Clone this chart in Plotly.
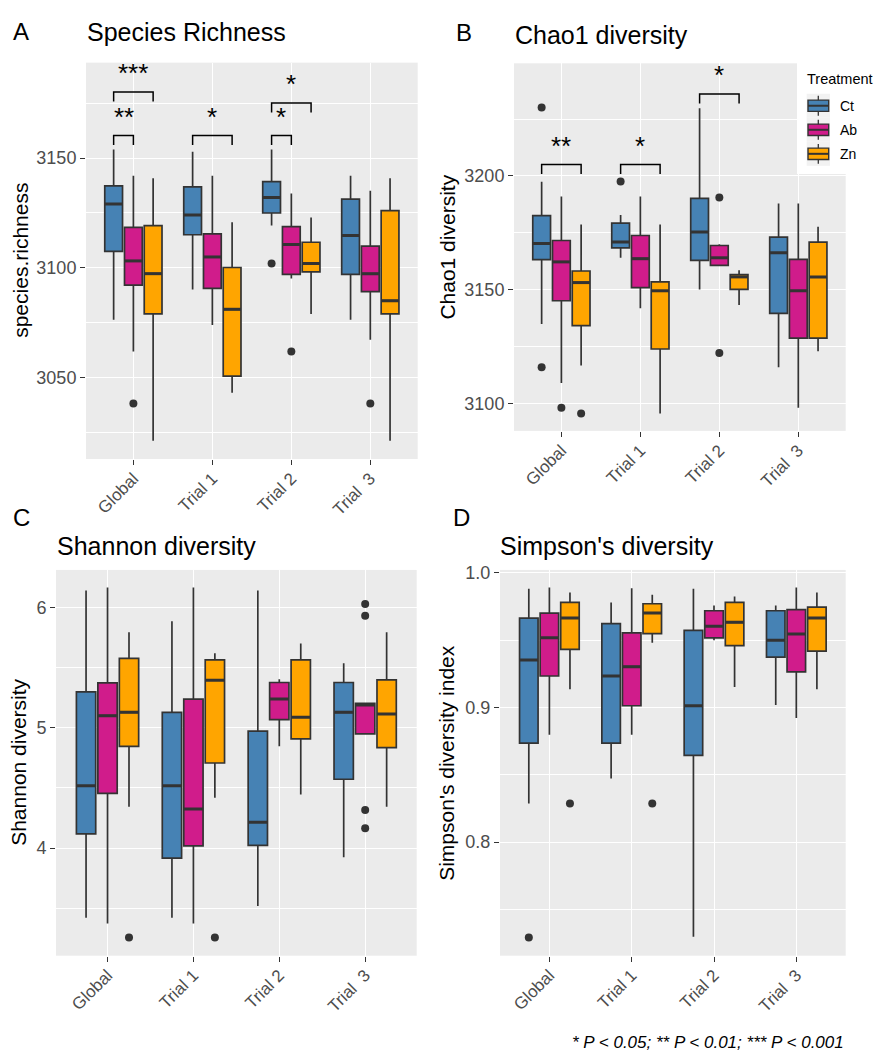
import plotly.graph_objects as go

W, H = 876, 1058
FONT = "Liberation Sans, Arial, Helvetica, sans-serif"

groups = ["Global", "Trial 1", "Trial 2", "Trial\u00a0\u00a03"]
treatments = ["Ct", "Ab", "Zn"]
colors = {"Ct": "#4682B4", "Ab": "#D01C8B", "Zn": "#FFA500"}
offsets = {"Ct": -0.25, "Ab": 0.0, "Zn": 0.25}
BOXW = 0.225

# ---------------- Panel A: species richness ----------------
rich_lo = {"Ct": [3076.4, 3090.2, 3119.3, 3076.4],
           "Ab": [3062.0, 3074.1, 3095.2, 3067.3],
           "Zn": [3021.4, 3043.2, 3079.1, 3021.4]}
rich_q1 = {"Ct": [3107.5, 3115.1, 3125.0, 3097.1],
           "Ab": [3092.2, 3090.7, 3097.1, 3089.2],
           "Zn": [3079.1, 3050.8, 3098.2, 3079.1]}
rich_med = {"Ct": [3129.1, 3124.1, 3132.1, 3114.8],
            "Ab": [3103.2, 3105.0, 3110.7, 3097.4],
            "Zn": [3097.4, 3081.2, 3102.0, 3085.1]}
rich_q3 = {"Ct": [3137.3, 3136.9, 3139.3, 3131.3],
           "Ab": [3118.5, 3115.5, 3118.8, 3109.9],
           "Zn": [3119.3, 3100.2, 3111.7, 3126.1]}
rich_hi = {"Ct": [3153.9, 3152.9, 3153.9, 3141.9],
           "Ab": [3141.9, 3141.9, 3133.9, 3135.1],
           "Zn": [3140.8, 3120.8, 3123.0, 3140.8]}
rich_out = [(0, "Ab", 3038.3), (2, "Ct", 3102.0), (2, "Ab", 3062.0), (3, "Ab", 3038.3)]
rich_sig = [(0, "Ct", "Ab", 3160.2, "**"), (0, "Ct", "Zn", 3180.0, "***"),
            (1, "Ct", "Zn", 3160.2, "*"), (2, "Ct", "Ab", 3160.2, "*"),
            (2, "Ct", "Zn", 3175.0, "*")]

# ---------------- Panel B: Chao1 ----------------
chao_lo = {"Ct": [3134.9, 3164.0, 3150.1, 3115.9],
           "Ab": [3109.0, 3141.8, 3160.7, 3098.1],
           "Zn": [3116.6, 3095.5, 3143.2, 3122.9]}
chao_q1 = {"Ct": [3163.2, 3168.4, 3162.9, 3139.6],
           "Ab": [3145.1, 3150.9, 3160.7, 3128.7],
           "Zn": [3134.2, 3123.9, 3150.1, 3128.7]}
chao_med = {"Ct": [3170.3, 3170.9, 3175.3, 3166.2],
            "Ab": [3162.2, 3163.6, 3164.0, 3149.5],
            "Zn": [3153.1, 3149.5, 3155.6, 3155.6]}
chao_q3 = {"Ct": [3182.5, 3179.2, 3190.1, 3173.1],
           "Ab": [3171.6, 3173.8, 3169.4, 3163.3],
           "Zn": [3158.2, 3153.4, 3156.6, 3170.9]}
chao_hi = {"Ct": [3197.4, 3182.8, 3229.8, 3187.9],
           "Ab": [3191.0, 3191.0, 3169.9, 3187.9],
           "Zn": [3178.6, 3178.6, 3158.5, 3177.7]}
chao_out = [(0, "Ct", 3230.1), (0, "Ct", 3115.9), (0, "Ab", 3098.1), (0, "Zn", 3095.5),
            (1, "Ct", 3197.5), (2, "Ab", 3190.5), (2, "Ab", 3122.1)]
chao_sig = [(0, "Ct", "Zn", 3205.0, "**"), (1, "Ct", "Zn", 3205.0, "*"),
            (2, "Ct", "Zn", 3236.0, "*")]

# ---------------- Panel C: Shannon ----------------
shan_lo = {"Ct": [3.422, 3.422, 3.519, 3.923],
           "Ab": [3.373, 3.373, 4.847, 4.949],
           "Zn": [4.344, 4.418, 4.446, 4.344]}
shan_q1 = {"Ct": [4.118, 3.917, 4.022, 4.572],
           "Ab": [4.454, 4.019, 5.067, 4.949],
           "Zn": [4.845, 4.707, 4.908, 4.834]}
shan_med = {"Ct": [4.517, 4.517, 4.215, 5.128],
            "Ab": [5.100, 4.325, 5.238, 5.188],
            "Zn": [5.128, 5.395, 5.087, 5.114]}
shan_q3 = {"Ct": [5.298, 5.128, 4.971, 5.376],
           "Ab": [5.373, 5.238, 5.376, 5.202],
           "Zn": [5.576, 5.563, 5.563, 5.398]}
shan_hi = {"Ct": [6.140, 5.884, 6.140, 5.535],
           "Ab": [6.165, 6.165, 5.403, 5.202],
           "Zn": [5.794, 5.618, 5.700, 5.794]}
shan_out = [(0, "Zn", 3.257), (1, "Zn", 3.257), (3, "Ab", 6.028), (3, "Ab", 5.931),
            (3, "Ab", 4.316), (3, "Ab", 4.165)]
shan_sig = []

# ---------------- Panel D: Simpson ----------------
simp_lo = {"Ct": [0.8287, 0.8472, 0.7297, 0.9017],
           "Ab": [0.8796, 0.8796, 0.9499, 0.8921],
           "Zn": [0.9135, 0.9479, 0.9152, 0.9135]}
simp_q1 = {"Ct": [0.8735, 0.8735, 0.8644, 0.9373],
           "Ab": [0.9233, 0.9012, 0.9516, 0.9263],
           "Zn": [0.9430, 0.9548, 0.9459, 0.9418]}
simp_med = {"Ct": [0.9351, 0.9233, 0.9012, 0.9499],
            "Ab": [0.9516, 0.9302, 0.9602, 0.9545],
            "Zn": [0.9663, 0.9700, 0.9631, 0.9663]}
simp_q3 = {"Ct": [0.9663, 0.9622, 0.9572, 0.9717],
           "Ab": [0.9700, 0.9553, 0.9717, 0.9725],
           "Zn": [0.9779, 0.9769, 0.9779, 0.9744]}
simp_hi = {"Ct": [0.9880, 0.9779, 0.9880, 0.9757],
           "Ab": [0.9889, 0.9885, 0.9757, 0.9889],
           "Zn": [0.9853, 0.9835, 0.9823, 0.9853]}
simp_out = [(0, "Ct", 0.7292), (0, "Zn", 0.8287), (1, "Zn", 0.8287)]
simp_sig = []

tick_labels = groups
caption = "* P < 0.05; ** P < 0.01; *** P < 0.001"

panels = [
    dict(key="A", title="Species Richness", ytitle="species.richness",
         lo=rich_lo, q1=rich_q1, med=rich_med, q3=rich_q3, hi=rich_hi,
         out=rich_out, sig=rich_sig, box=(86, 56, 417.7, 455), yr=(3013.1, 3193.4),
         dtick=50, tick0=3000, fmt="d", tag=(11, 24.5), tpos=(85, 25), ytx=21),
    dict(key="B", title="Chao1 diversity", ytitle="Chao1 diversity",
         lo=chao_lo, q1=chao_q1, med=chao_med, q3=chao_q3, hi=chao_hi,
         out=chao_out, sig=chao_sig, box=(514, 56.7, 845.7, 426.7), yr=(3087.9, 3249.5),
         dtick=50, tick0=3000, fmt="d", tag=(454, 26), tpos=(513, 28), ytx=447.5),
    dict(key="C", title="Shannon diversity", ytitle="Shannon diversity",
         lo=shan_lo, q1=shan_q1, med=shan_med, q3=shan_q3, hi=shan_hi,
         out=shan_out, sig=shan_sig, box=(56, 566.7, 416.7, 955), yr=(3.106, 6.311),
         dtick=1, tick0=0, fmt="d", tag=(11, 514), tpos=(55, 543), ytx=19),
    dict(key="D", title="Simpson's diversity", ytitle="Simpson's diversity index",
         lo=simp_lo, q1=simp_q1, med=simp_med, q3=simp_q3, hi=simp_hi,
         out=simp_out, sig=simp_sig, box=(500, 566.7, 845.7, 955), yr=(0.7157, 1.002),
         dtick=0.1, tick0=0, fmt=".1f", tag=(451, 514), tpos=(498, 543), ytx=447),
]

def px2x(px):
    return px / W

def px2y(py):
    return 1 - py / H

fig = go.Figure()
annotations = []
shapes = []
layout_axes = {}
XR = (-0.6, 3.6)

for i, p in enumerate(panels):
    n = i + 1
    xa = "x" if n == 1 else f"x{n}"
    ya = "y" if n == 1 else f"y{n}"
    l, t, r, b = p["box"]
    ppu = (b - t) / (p["yr"][1] - p["yr"][0])

    for tr in treatments:
        pos = [g + offsets[tr] for g in range(len(groups))]
        fig.add_trace(go.Box(
            x=pos, q1=p["q1"][tr], median=p["med"][tr], q3=p["q3"][tr],
            lowerfence=p["lo"][tr], upperfence=p["hi"][tr],
            width=BOXW, whiskerwidth=0, boxpoints=False,
            fillcolor=colors[tr], line=dict(color="#333333", width=1.7),
            name=tr, showlegend=False, xaxis=xa, yaxis=ya, hoverinfo="skip"))
        mx, my = [], []
        for g in range(len(groups)):
            c = g + offsets[tr]
            mx += [c - BOXW / 2, c + BOXW / 2, None]
            my += [p["med"][tr][g], p["med"][tr][g], None]
        fig.add_trace(go.Scatter(x=mx, y=my, mode="lines",
                                 line=dict(color="#333333", width=3),
                                 showlegend=False, xaxis=xa, yaxis=ya, hoverinfo="skip"))
    ox = [g + offsets[tr] for g, tr, v in p["out"]]
    oy = [v for g, tr, v in p["out"]]
    fig.add_trace(go.Scatter(x=ox, y=oy, mode="markers",
                             marker=dict(color="#333333", size=8),
                             showlegend=False, xaxis=xa, yaxis=ya, hoverinfo="skip"))
    tip = 9.5 / ppu
    for g, t1, t2, yv, lab in p["sig"]:
        x1 = g + offsets[t1]
        x2 = g + offsets[t2]
        fig.add_trace(go.Scatter(x=[x1, x1, x2, x2], y=[yv - tip, yv, yv, yv - tip],
                                 mode="lines", line=dict(color="black", width=1.5),
                                 showlegend=False, xaxis=xa, yaxis=ya, hoverinfo="skip"))
        annotations.append(dict(x=(x1 + x2) / 2, y=yv, xref=xa, yref=ya, text=lab,
                                showarrow=False, yanchor="middle", yshift=19,
                                font=dict(size=26, color="black", family=FONT)))

    axname_x = "xaxis" if n == 1 else f"xaxis{n}"
    axname_y = "yaxis" if n == 1 else f"yaxis{n}"
    layout_axes[axname_x] = dict(
        domain=[px2x(l), px2x(r)], anchor=ya, range=list(XR),
        tickmode="array", tickvals=list(range(len(groups))), ticktext=tick_labels,
        tickangle=-45, showgrid=True, gridcolor="white", gridwidth=1.4,
        zeroline=False, showline=False, ticks="outside", ticklen=5,
        tickcolor="#333333", tickwidth=1.2, ticklabelstandoff=-3,
        tickfont=dict(size=17, color="#4D4D4D", family=FONT))
    layout_axes[axname_y] = dict(
        domain=[px2y(b), px2y(t)], anchor=xa, range=list(p["yr"]),
        tickmode="linear", tick0=p["tick0"], dtick=p["dtick"], tickformat=p["fmt"],
        showgrid=True, gridcolor="white", gridwidth=1.4,
        minor=dict(tick0=p["tick0"], dtick=p["dtick"] / 2, showgrid=True,
                   gridcolor="white", gridwidth=0.7, ticks=""),
        zeroline=False, showline=False, ticks="outside", ticklen=5,
        tickcolor="#333333", tickwidth=1.2,
        tickfont=dict(size=18, color="#4D4D4D", family=FONT))

    annotations.append(dict(x=px2x(p["tag"][0]), y=px2y(p["tag"][1]), xref="paper", yref="paper",
                            text=p["key"], showarrow=False, xanchor="left", yanchor="middle",
                            font=dict(size=24, color="black", family=FONT)))
    annotations.append(dict(x=px2x(p["tpos"][0]), y=px2y(p["tpos"][1]), xref="paper", yref="paper",
                            text=p["title"], showarrow=False, xanchor="left", yanchor="middle",
                            font=dict(size=25, color="black", family=FONT)))
    annotations.append(dict(x=px2x(p["ytx"]), y=px2y((t + b) / 2), xref="paper", yref="paper",
                            text=p["ytitle"], showarrow=False, textangle=-90,
                            xanchor="center", yanchor="middle",
                            font=dict(size=21, color="black", family=FONT)))

annotations.append(dict(x=px2x(846), y=px2y(1042), xref="paper", yref="paper",
                        text="<i>" + caption + "</i>", showarrow=False,
                        xanchor="right", yanchor="middle",
                        font=dict(size=17, color="black", family=FONT)))

# legend, drawn ggplot-style over the top right of panel B
shapes.append(dict(type="rect", xref="paper", yref="paper", x0=px2x(797), x1=1.0,
                   y0=px2y(168), y1=px2y(56), fillcolor="white", line=dict(width=0),
                   layer="above"))
annotations.append(dict(x=px2x(805), y=px2y(72.5), xref="paper", yref="paper",
                        text="Treatment", showarrow=False, xanchor="left", yanchor="middle",
                        font=dict(size=14.5, color="black", family=FONT)))
key_top = 87.3
key_h = 24.2
for k, tr in enumerate(treatments):
    ky0 = key_top + k * key_h
    kc = ky0 + key_h / 2
    shapes.append(dict(type="rect", xref="paper", yref="paper",
                       x0=px2x(806.7), x1=px2x(830), y0=px2y(ky0 + key_h), y1=px2y(ky0),
                       fillcolor="#F2F2F2", line=dict(width=0), layer="above"))
    shapes.append(dict(type="line", xref="paper", yref="paper",
                       x0=px2x(818.3), x1=px2x(818.3), y0=px2y(kc + 10), y1=px2y(kc - 10),
                       line=dict(color="#333333", width=1.3), layer="above"))
    shapes.append(dict(type="rect", xref="paper", yref="paper",
                       x0=px2x(808), x1=px2x(828.7), y0=px2y(kc + 5.7), y1=px2y(kc - 5.7),
                       fillcolor=colors[tr], line=dict(color="#333333", width=1.4),
                       layer="above"))
    shapes.append(dict(type="line", xref="paper", yref="paper",
                       x0=px2x(808), x1=px2x(828.7), y0=px2y(kc), y1=px2y(kc),
                       line=dict(color="#333333", width=2), layer="above"))
    annotations.append(dict(x=px2x(838), y=px2y(kc), xref="paper", yref="paper",
                            text=tr, showarrow=False, xanchor="left", yanchor="middle",
                            font=dict(size=14, color="black", family=FONT)))

fig.update_layout(
    width=W, height=H, margin=dict(l=0, r=0, t=0, b=0),
    paper_bgcolor="white", plot_bgcolor="#EBEBEB",
    showlegend=False, hovermode=False,
    font=dict(family=FONT, color="black"),
    annotations=annotations, shapes=shapes,
    boxmode="overlay",
    **layout_axes)

fig.write_html("out.html")
